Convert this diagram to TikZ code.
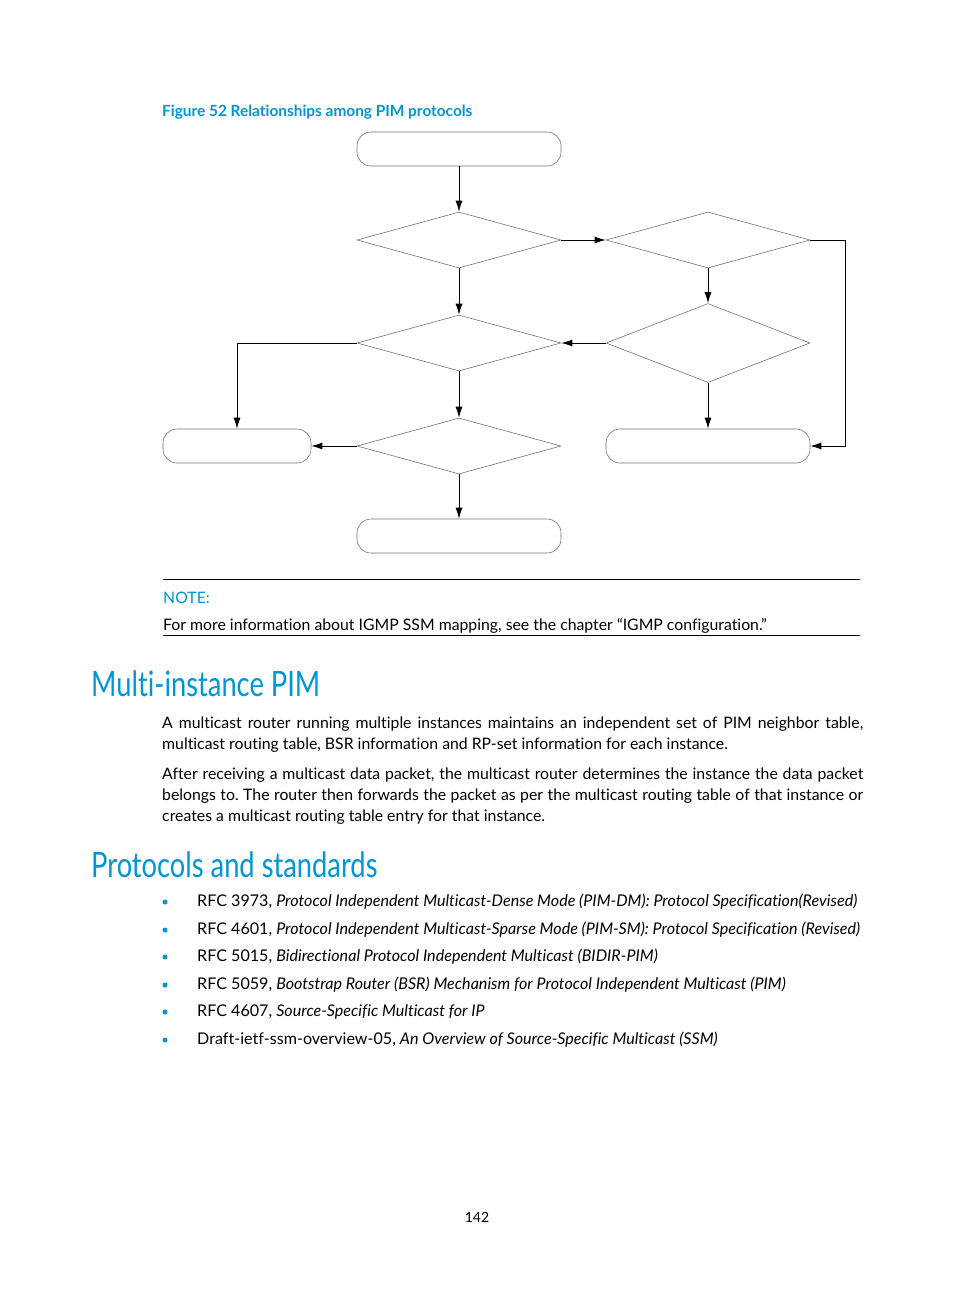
\documentclass[tikz,border=0pt]{standalone}
\usepackage{fontspec}
\setmainfont{Lato}[Ligatures=NoCommon]
\newfontfamily\headfont{Lato}[FakeStretch=0.78,Ligatures=NoCommon]
\usetikzlibrary{positioning,arrows.meta,shapes.geometric}
\definecolor{hpblue}{HTML}{0096D6}
\frenchspacing

\begin{document}
\begin{tikzpicture}[x=1pt,y=-1pt,font=\fontsize{15.8}{21}\selectfont,
 term/.style={draw=black!55,line width=.6pt,rounded corners=14pt,minimum width=204pt,minimum height=34pt,inner sep=0pt},
 decide/.style={diamond,draw=black!55,line width=.6pt,minimum width=204pt,minimum height=56pt,inner sep=0pt},
 flow/.style={-{Latex[length=11pt,width=7pt]},line width=.9pt},
 heading/.style={font=\headfont\fontsize{35}{40}\selectfont,text=hpblue,anchor=base west,inner sep=0pt},
 para/.style={text width=701pt,align=justify,anchor=north west,inner sep=0pt},
 item/.style={anchor=base west,inner sep=0pt,font=\fontsize{16.1}{21}\selectfont},
 dot/.style={circle,fill=hpblue,minimum size=5pt,inner sep=0pt}]
\fill[white] (0,0) rectangle (954,1296);
\useasboundingbox (0,0) rectangle (954,1296);
% figure caption
\node[anchor=base west,inner sep=0pt,text=hpblue,font=\fontsize{15.4}{18}\selectfont\bfseries] (caption) at (162,116)
 {Figure 52 Relationships among PIM protocols};
% flow chart
\node[term] (start) at (459,149) {};
\node[decide] (d1) at (459,240) {};
\node[decide] (d2) at (708,240) {};
\node[decide] (d3) at (459,343) {};
\node[decide,minimum height=79pt] (d4) at (708,343) {};
\node[decide] (d5) at (459,446) {};
\node[term,minimum width=148pt] (left) at (237,446) {};
\node[term] (right) at (708,446) {};
\node[term] (bottom) at (459,536) {};
\coordinate (rail) at (845,240);
\draw[flow] (start)--(d1);
\draw[flow] (d1.east)--(d2.west);
\draw[flow] (d2.east)--(rail)|-(right.east);
\draw[flow] (d2)--(d4);
\draw[flow] (d1)--(d3);
\draw[flow] (d4.west)--(d3.east);
\draw[flow] (d3.west)-|(left.north);
\draw[flow] (d3)--(d5);
\draw[flow] (d5.west)--(left.east);
\draw[flow] (d5)--(bottom);
\draw[flow] (d4)--(right);
% note
\draw[line width=.8pt] (163,579)--(860,579);
\node[anchor=base west,inner sep=0pt,text=hpblue] (notehead) at (163,603) {NOTE:};
\node[anchor=base west,inner sep=0pt] (notetext) at (163,630)
 {For more information about IGMP SSM mapping, see the chapter “IGMP configuration.”};
\draw[line width=.8pt] (163,635)--(860,635);
% multi-instance section
\node[heading] (multi) at (91,696) {Multi-instance PIM};
\node[para] (p1) at (162,717)
 {A multicast router running multiple instances maintains an independent set of PIM neighbor table,\linebreak multicast routing table, BSR information and RP-set information for each instance.};
\node[para] (p2) at (162,768)
 {After receiving a multicast data packet, the multicast router determines the instance the data packet\linebreak belongs to. The router then forwards the packet as per the multicast routing table of that instance or\linebreak creates a multicast routing table entry for that instance.};
% protocols section
\node[heading] (protos) at (91,877) {Protocols and standards};
\node[dot] (b1) at (165,902) {};
\node[item] (i1) at (197,906) {RFC 3973, \textit{Protocol Independent Multicast-Dense Mode (PIM-DM): Protocol Specification(Revised)}};
\node[dot] (b2) at (165,930) {};
\node[item] (i2) at (197,934) {RFC 4601, \textit{Protocol Independent Multicast-Sparse Mode (PIM-SM): Protocol Specification (Revised)}};
\node[dot] (b3) at (165,957) {};
\node[item] (i3) at (197,961) {RFC 5015, \textit{Bidirectional Protocol Independent Multicast (BIDIR-PIM)}};
\node[dot] (b4) at (165,985) {};
\node[item] (i4) at (197,989) {RFC 5059, \textit{Bootstrap Router (BSR) Mechanism for Protocol Independent Multicast (PIM)}};
\node[dot] (b5) at (165,1012) {};
\node[item] (i5) at (197,1016) {RFC 4607, \textit{Source-Specific Multicast for IP}};
\node[dot] (b6) at (165,1040) {};
\node[item] (i6) at (197,1044) {Draft-ietf-ssm-overview-05, \textit{An Overview of Source-Specific Multicast (SSM)}};
% page number
\node[anchor=base,inner sep=0pt,font=\fontsize{14}{16}\selectfont] (pageno) at (477,1222) {142};
\end{tikzpicture}
\end{document}
